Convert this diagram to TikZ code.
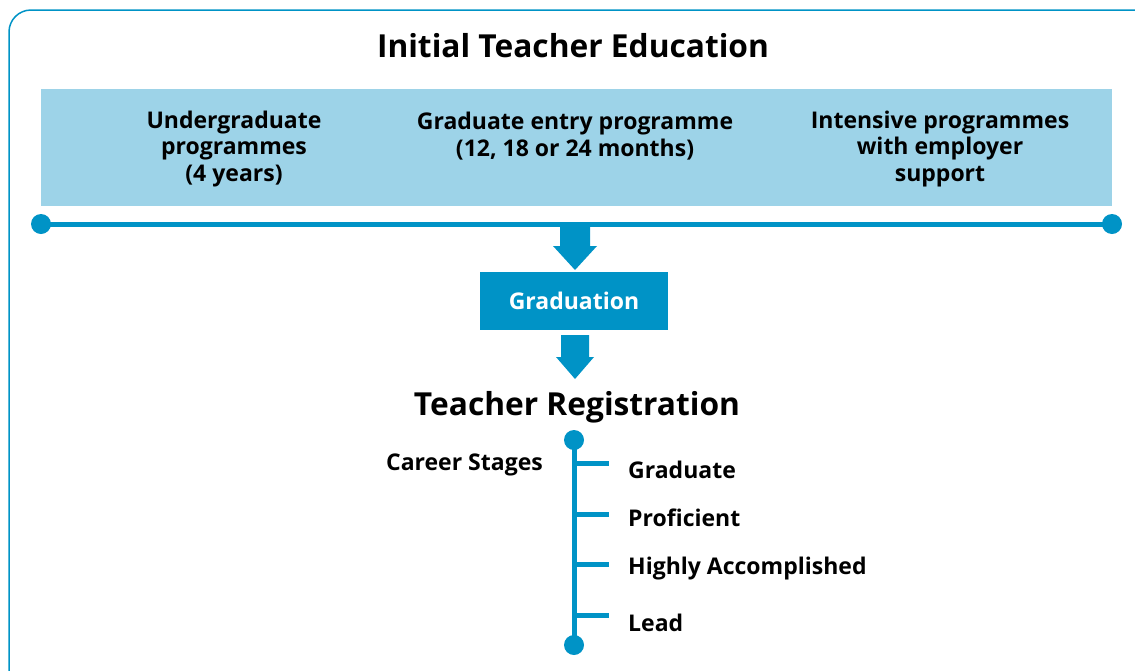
\documentclass[tikz,border=0pt]{standalone}
\usepackage{fontspec}
\setmainfont{Open Sans}
\definecolor{dblue}{HTML}{0093C6}
\definecolor{lblue}{HTML}{9DD3E8}
\begin{document}
\begin{tikzpicture}[x=1pt,y=-1pt,
  txt/.style={font=\bfseries\fontsize{23}{26.7}\selectfont, align=center, inner sep=0pt, text=black},
  stage/.style={font=\bfseries\fontsize{23}{26}\selectfont, anchor=west, inner sep=0pt},
  heading/.style={font=\bfseries\fontsize{31.7}{36}\selectfont, inner sep=0pt},
  dot/.style={circle, fill=dblue, minimum size=20pt, inner sep=0pt},
  bigarrow/.style={fill=dblue}
]
\useasboundingbox (0,0) rectangle (1135,670);
% frame
\draw[dblue, line width=1.5pt, rounded corners=22pt] (9,690) -- (9,10) -- (1160,10);
% band
\fill[lblue] (41,89) rectangle (1112,206);
\node[heading] (title) at (573,46) {Initial Teacher Education};
\node[txt] (ug) at (234,149) {Undergraduate\\programmes\\(4 years)};
\node[txt] (ge) at (575,136) {Graduate entry programme\\(12, 18 or 24 months)};
\node[txt] (ip) at (940,149) {Intensive programmes\\with employer\\support};
% timeline
\node[dot] (l) at (41,224) {};
\node[dot] (r) at (1112,224) {};
\draw[dblue, line width=5pt] (l.center) -- (r.center);
% arrow 1
\fill[bigarrow] (560,224) -- (590,224) -- (590,246) -- (597,246) -- (575,270) -- (553,246) -- (560,246) -- cycle;
% graduation
\node[fill=dblue, minimum width=188pt, minimum height=58pt, inner sep=0pt, text=white, font=\bfseries\fontsize{23}{26}\selectfont] (grad) at (574,301) {Graduation};
% arrow 2
\fill[bigarrow] (561,335) -- (589,335) -- (589,357) -- (594,357) -- (575,379) -- (556,357) -- (561,357) -- cycle;
\node[heading] (reg) at (577,407) {Teacher Registration};
% career stages
\node[dot] (t) at (574,440) {};
\node[dot] (b) at (574,645) {};
\draw[dblue, line width=5pt] (t.center) -- (b.center);
\node[font=\bfseries\fontsize{23}{26}\selectfont, inner sep=0pt, anchor=east] (cs) at (543,465) {Career Stages};
\foreach \y/\lab/\ly/\n in {463/Graduate/470/s1, 514/Proficient/518/s2, 564/Highly Accomplished/569/s3, 615/Lead/623/s4}{
  \coordinate (\n a) at (574,\y);
  \coordinate (\n b) at (609,\y);
  \draw[dblue, line width=5pt] (\n a) -- (\n b);
  \node[stage] (\n) at (628,\ly) {\lab};
}
\end{tikzpicture}
\end{document}
